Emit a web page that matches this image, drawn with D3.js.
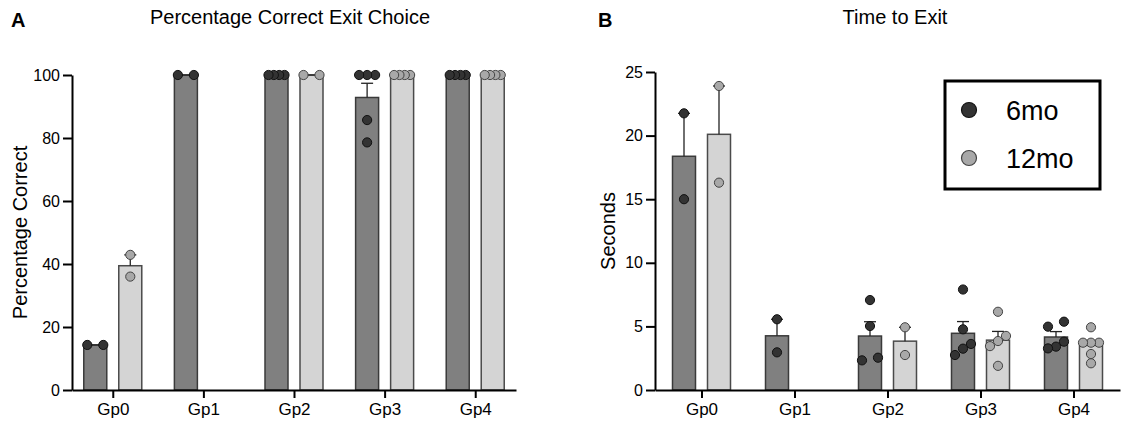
<!DOCTYPE html>
<html><head><meta charset="utf-8">
<script src="https://cdn.jsdelivr.net/npm/d3@7"></script>
<style>
body{margin:0;background:#fff}
svg{display:block}
text{font-family:Arial,"Liberation Sans",sans-serif;fill:#000}
</style>
</head><body>
<svg id="c" width="1129" height="424"></svg>
<script>
// ---------- DATA ----------
const groups = ["Gp0","Gp1","Gp2","Gp3","Gp4"];
const seriesNames = ["6mo","12mo"];
// Panel A: percentage correct exit choice (individual animals)
const pctCorrect6mo  = [[14.3,14.3],[100,100],[100,100,100,100],[100,100,100,85.7,78.6],[100,100,100,100]];
const pctCorrect12mo = [[42.9,36.0],[],[100,100],[100,100,100,100],[100,100,100,100]];
const pctTicks = [0,20,40,60,80,100];
// Panel B: time to exit in seconds (individual animals)
const time6mo  = [[21.75,15.0],[5.56,2.96],[7.07,5.03,2.54,2.33],[7.9,4.77,3.62,3.25,2.75],[5.37,4.98,3.8,3.41,3.27]];
const time12mo = [[23.9,16.3],[],[4.93,2.75],[6.15,4.25,3.85,3.45,1.9],[4.93,3.72,3.72,3.72,2.83,2.1]];
const timeTicks = [0,5,10,15,20,25];

// ---------- STYLE ----------
const barFill   = ["#808080","#d4d4d4"];
const barStroke = ["#3a3a3a","#4a4a4a"];
const dotFill   = ["#333333","#a8a8a8"];
const dotStroke = ["#111111","#444444"];

const svg = d3.select("#c");
const sem = a => a.length > 1 ? d3.deviation(a) / Math.sqrt(a.length) : 0;

function swarm(pts, y){
  const order = pts.map(v => ({v, py: y(v)})).sort((a,b) => a.py - b.py);
  const rows = []; let cur = [];
  order.forEach(p => {
    if (cur.length && p.py - cur[cur.length-1].py > 7) { rows.push(cur); cur = []; }
    cur.push(p);
  });
  if (cur.length) rows.push(cur);
  const out = [];
  rows.forEach(r => {
    const k = r.length, sp = k > 1 ? 16/(k-1) : 0;
    r.forEach((p,j) => out.push({v: p.v, dx: k > 1 ? 8 - j*sp : 0}));
  });
  return out;
}

function panel(cfg){
  const g = svg.append("g");
  const x = d3.scalePoint().domain(groups).range(cfg.xr).padding(cfg.pad);
  const y = d3.scaleLinear().domain([0, d3.max(cfg.ticks)]).range([390, cfg.ytop]);
  const off = d3.scaleOrdinal().domain(seriesNames).range([-17.5, 17.5]);
  const bw = 23, cap = 12, r = 4.6;

  const recs = [];
  cfg.series.forEach((arr, si) => arr.forEach((pts, gi) => {
    if (!pts.length) return;
    recs.push({si, cx: x(groups[gi]) + off(seriesNames[si]), pts, m: d3.mean(pts), e: sem(pts)});
  }));

  g.selectAll("rect.bar").data(recs).join("rect").attr("class","bar")
    .attr("x", d => d.cx - bw/2).attr("width", bw)
    .attr("y", d => y(d.m)).attr("height", d => y(0) - y(d.m))
    .attr("fill", d => barFill[d.si]).attr("stroke", d => barStroke[d.si]).attr("stroke-width", 1.5);

  const eb = g.selectAll("g.eb").data(recs).join("g").attr("class","eb")
    .attr("stroke","#222").attr("stroke-width",1.3);
  eb.append("line").attr("x1", d => d.cx).attr("x2", d => d.cx)
    .attr("y1", d => y(d.m)).attr("y2", d => y(d.m + d.e));
  eb.append("line").attr("x1", d => d.cx - cap/2).attr("x2", d => d.cx + cap/2)
    .attr("y1", d => y(d.m + d.e)).attr("y2", d => y(d.m + d.e));

  recs.forEach(d => {
    g.append("g").selectAll("circle").data(swarm(d.pts, y)).join("circle")
      .attr("cx", p => d.cx + p.dx).attr("cy", p => y(p.v)).attr("r", r)
      .attr("fill", dotFill[d.si]).attr("stroke", dotStroke[d.si]).attr("stroke-width", 1);
  });

  const ya = g.append("g").attr("transform", `translate(${cfg.xr[0]},0)`)
    .call(d3.axisLeft(y).tickValues(cfg.ticks).tickSize(9).tickSizeOuter(0).tickPadding(3));
  ya.selectAll("text").style("font-size","16px").style("font-family","Arial,'Liberation Sans',sans-serif");
  ya.selectAll("line,path").attr("stroke","#000").attr("stroke-width",2);

  const xa = g.append("g").attr("transform","translate(0,390)")
    .call(d3.axisBottom(x).tickSize(8).tickSizeOuter(0).tickPadding(5));
  xa.selectAll("text").style("font-size","17px").style("font-family","Arial,'Liberation Sans',sans-serif");
  xa.selectAll("line,path").attr("stroke","#000").attr("stroke-width",2);

  svg.append("text").attr("x", cfg.titleX).attr("y", 24).attr("text-anchor","middle")
    .style("font-size","20px").text(cfg.title);
  svg.append("text").attr("x", cfg.letterX).attr("y", 27)
    .style("font-size","20px").style("font-weight","bold").text(cfg.letter);
  svg.append("text").attr("transform", `translate(${cfg.ylabX},${(390 + cfg.ytop)/2}) rotate(-90)`)
    .attr("text-anchor","middle").style("font-size","20px").text(cfg.ylab);
}

panel({xr:[72,516], pad:0.45, ytop:75, ticks:pctTicks, series:[pctCorrect6mo, pctCorrect12mo],
  title:"Percentage Correct Exit Choice", titleX:290, letter:"A", letterX:11, ylab:"Percentage Correct", ylabX:27});
panel({xr:[655,1120], pad:0.5, ytop:72, ticks:timeTicks, series:[time6mo, time12mo],
  title:"Time to Exit", titleX:895, letter:"B", letterX:598, ylab:"Seconds", ylabX:615});

// legend
const lg = svg.append("g");
lg.append("rect").attr("x",945).attr("y",81).attr("width",155).attr("height",108)
  .attr("fill","#fff").attr("stroke","#000").attr("stroke-width",3);
seriesNames.forEach((s,i) => {
  lg.append("circle").attr("cx",969).attr("cy",110 + i*48).attr("r",7.5)
    .attr("fill",dotFill[i]).attr("stroke",dotStroke[i]).attr("stroke-width",1.2);
  lg.append("text").attr("x",1006).attr("y",120 + i*48).style("font-size","27px").text(s);
});
</script>
</body></html>
